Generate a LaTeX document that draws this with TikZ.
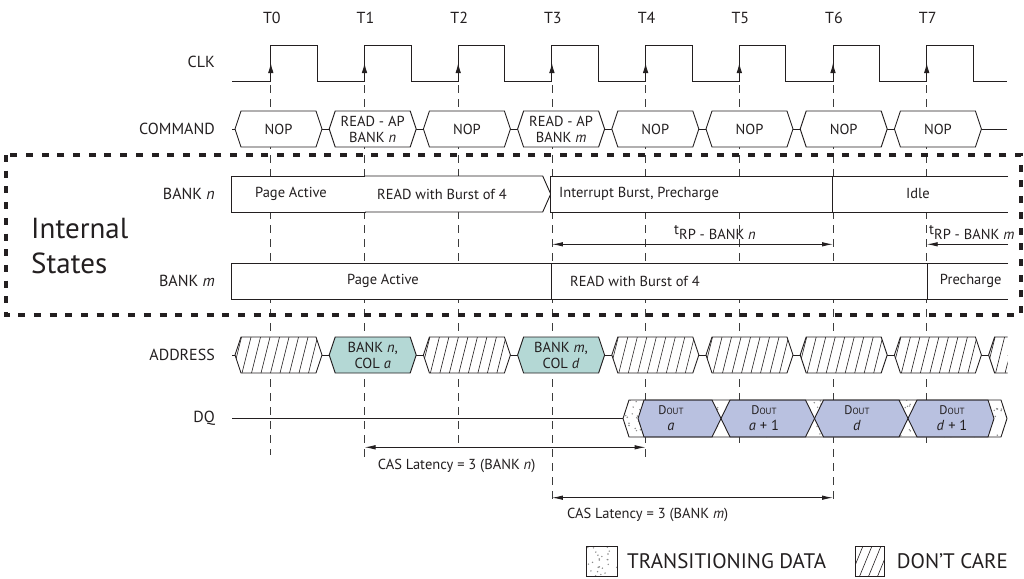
\documentclass[tikz,border=0pt]{standalone}
\usepackage{fontspec}
\setmainfont{PT Sans}
\usetikzlibrary{arrows.meta,calc}
\definecolor{ink}{RGB}{35,31,32}
\definecolor{guide}{RGB}{60,60,60}
\definecolor{addrfill}{RGB}{180,216,213}
\definecolor{dqfill}{RGB}{185,193,224}
\definecolor{dotgrey}{RGB}{140,140,140}
\tikzset{
  sig/.style={draw=ink,line width=0.9pt,line join=miter},
  hatchln/.style={draw=ink,line width=0.6pt},
  guideline/.style={draw=guide,line width=0.8pt,dash pattern=on 8pt off 6pt},
  tlbl/.style={font=\fontsize{16}{18}\selectfont,text=ink,inner sep=0pt},
  rowlbl/.style={font=\fontsize{16}{18}\selectfont,text=ink,anchor=east,inner sep=0pt},
  celltxt/.style={font=\fontsize{14.5}{16}\selectfont,text=ink,align=center,inner sep=0pt},
  bigtxt/.style={font=\fontsize{29}{35}\selectfont,text=ink,anchor=base west,inner sep=0pt},
  legtxt/.style={font=\fontsize{21}{24}\selectfont,text=ink,anchor=west,inner sep=0pt},
  dim/.style={draw=ink,line width=0.9pt,{Latex[length=11pt,width=4.5pt]}-{Latex[length=11pt,width=4.5pt]}},
  dimr/.style={draw=ink,line width=0.9pt,-{Latex[length=11pt,width=4.5pt]}},
  edgetip/.style={draw=ink,line width=0.9pt,-{Latex[length=10pt,width=5.5pt]}},
  statebox/.style={draw=ink,line width=0.9pt,fill=white},
  groupbox/.style={draw=ink,line width=4pt,dash pattern=on 7pt off 8.7pt},
}
\newcommand{\hexcell}[2]{(#1,#2) -- ++(6,-18) -- ++(75,0) -- ++(6,18) -- ++(-6,18) -- ++(-75,0) -- cycle}
\newcommand{\dqenv}{(623,418.5) -- (629,400) -- (1001,400) -- (1007,418.5) -- (1001,437) -- (629,437) -- cycle}
\newcommand{\dout}{{\fontsize{12.5}{14}\selectfont D}{\fontsize{9}{10}\selectfont OUT}}

\begin{document}
\begin{tikzpicture}[x=1pt,y=-1pt]
  \useasboundingbox (0,0) rectangle (1024,578);

  \foreach \k in {0,...,7}{
    \pgfmathsetmacro\tx{270.8+93.7*\k}
    \coordinate (e\k) at (\tx,81);
    \node[tlbl] (lt\k) at (\tx+1,18) {T\k};
  }
  \foreach \k/\yend in {0/455,1/457,2/443,3/501,4/457,5/443,6/501,7/443}
    \draw[guideline] (e\k) ++(0,4) -- ++(0,\yend-85);

  % clock
  \node[rowlbl] (lclk) at (215,62) {CLK};
  \draw[sig] (232,81) \foreach \k in {0,...,7}{ -- (e\k) -- ++(0,-36) -- ++(46.5,0) -- ++(0,36) } -- (1007,81);
  \foreach \k in {0,...,7} \draw[edgetip] (e\k) -- ++(0,-18);

  % command
  \node[rowlbl] (lcmd) at (215,129) {COMMAND};
  \draw[sig] (232,129) -- (1007,129);
  \foreach \k/\txt in {0/NOP,1/{READ - AP\\BANK \textit{n}},2/NOP,3/{READ - AP\\BANK \textit{m}},4/NOP,5/NOP,6/NOP,7/NOP}{
    \pgfmathsetmacro\lx{235+94.2*\k}
    \draw[sig,fill=white] \hexcell{\lx}{129};
    \node[celltxt] (cmd\k) at (\lx+43.5,129) {\txt};
  }

  % internal states
  \draw[groupbox] (5.5,155) rectangle (1021,315);
  \node[bigtxt] (lint) at (31,238) {Internal};
  \node[bigtxt] (lsta) at (31,273) {States};

  \node[rowlbl] (lbn) at (215,194) {BANK \textit{n}};
  \draw[statebox] (231,176) rectangle (365,212);
  \draw[statebox] (365,176) -- (542.7,176) -- (550.7,194) -- (542.7,212) -- (365,212);
  \draw[statebox] (1008,176) -- (550.7,176) -- (550.7,212) -- (1008,212);
  \draw[sig] (832,176) -- (832,212);
  \node[celltxt] (bn-pa) at (291,194) {Page Active};
  \node[celltxt,anchor=west] (bn-rd) at (377,194) {READ with Burst of 4};
  \node[celltxt,anchor=west] (bn-ib) at (559,194) {Interrupt Burst, Precharge};
  \node[celltxt] (bn-id) at (918,194) {Idle};

  \coordinate (ytrp) at (0,244.3);
  \coordinate (trpend) at (1008,244.3);
  \draw[dim] (e3 |- ytrp) -- (e6 |- ytrp);
  \draw[dimr] (trpend) -- (e7 |- ytrp);
  \node[celltxt,anchor=base west] (trpn) at (674,239) {\raisebox{5pt}{t}RP - BANK \textit{n}};
  \node[celltxt,anchor=base west] (trpm) at (929,239) {\raisebox{5pt}{t}RP - BANK \textit{m}};

  \node[rowlbl] (lbm) at (215,281) {BANK \textit{m}};
  \draw[statebox] (1008,263.3) -- (231,263.3) -- (231,299.3) -- (1008,299.3);
  \draw[sig] (551.7,263.3) -- (551.7,299.3);
  \draw[sig] (927.7,263.3) -- (927.7,299.3);
  \node[celltxt] (bm-pa) at (383,281) {Page Active};
  \node[celltxt,anchor=west] (bm-rd) at (570,281) {READ with Burst of 4};
  \node[celltxt] (bm-pr) at (970.7,281) {Precharge};

  % address
  \node[rowlbl] (ladr) at (215,355) {ADDRESS};
  \begin{scope}
    \clip (0,320) rectangle (1007.5,390);
    \draw[sig] (232,355) -- (1010,355);
    \foreach \k in {0,2,4,5,6,7,8}{
      \pgfmathsetmacro\lx{235+94.2*\k}
      \fill[white] \hexcell{\lx}{355};
      \begin{scope}
        \clip \hexcell{\lx}{355};
        \foreach \h in {-12,-2.5,...,92} \draw[hatchln] (\lx+\h,373) -- ++(9,-36);
      \end{scope}
      \draw[sig] \hexcell{\lx}{355};
    }
  \end{scope}
  \foreach \k/\txt in {1/{BANK \textit{n},\\COL \textit{a}},3/{BANK \textit{m},\\COL \textit{d}}}{
    \pgfmathsetmacro\lx{235+94.2*\k}
    \draw[sig,fill=addrfill] \hexcell{\lx}{355};
    \node[celltxt] (adr\k) at (\lx+43.5,355) {\txt};
  }

  % data
  \node[rowlbl] (ldq) at (215,418.5) {DQ};
  \draw[sig] (232,418.5) -- (623,418.5);
  \fill[white] \dqenv;
  \begin{scope}
    \clip \dqenv;
    \pgfmathsetseed{11}
    \foreach \i in {1,...,320}{
      \pgfmathsetmacro\px{623+384*rnd}
      \pgfmathsetmacro\py{400+37*rnd}
      \fill[dotgrey] (\px,\py) circle (0.8);
    }
  \end{scope}
  \foreach \la/\lc/\rc/\ra in {638/644/712/721,721/730/805.5/814.5,814.5/823.5/899/908,908/917/988/994}
    \draw[sig,fill=dqfill] (\la,418.5) -- (\lc,400) -- (\rc,400) -- (\ra,418.5) -- (\rc,437) -- (\lc,437) -- cycle;
  \draw[sig] \dqenv;
  \node[celltxt] (dq0) at (671,418.5) {\dout\\\textit{a}};
  \node[celltxt] (dq1) at (764,418.5) {\dout\\\textit{a} + 1};
  \node[celltxt] (dq2) at (857,418.5) {\dout\\\textit{d}};
  \node[celltxt] (dq3) at (952,418.5) {\dout\\\textit{d} + 1};

  % latencies
  \coordinate (ycas1) at (0,447.3);
  \coordinate (ycas2) at (0,497.7);
  \draw[dim] (e1 |- ycas1) -- (e4 |- ycas1);
  \node[celltxt,anchor=west] (casn) at (377.7,466) {CAS Latency = 3 (BANK \textit{n})};
  \draw[dim] (e3 |- ycas2) -- (e6 |- ycas2);
  \node[celltxt,anchor=west] (casm) at (567,515) {CAS Latency = 3 (BANK \textit{m})};

  % legend
  \fill[white] (586,546) rectangle (617.3,576.7);
  \begin{scope}
    \clip (586,546) rectangle (617.3,576.7);
    \pgfmathsetseed{5}
    \foreach \i in {1,...,24}{
      \pgfmathsetmacro\px{586+31*rnd}
      \pgfmathsetmacro\py{546+31*rnd}
      \fill[dotgrey] (\px,\py) circle (0.8);
    }
  \end{scope}
  \draw[sig] (586,546) rectangle (617.3,576.7);
  \node[legtxt] (lgtr) at (627,561.5) {TRANSITIONING DATA};
  \begin{scope}
    \clip (855.7,546.7) rectangle (884.3,576);
    \foreach \h in {-14,-5,...,30} \draw[hatchln] (855.7+\h,576) -- ++(12,-29.3);
  \end{scope}
  \draw[sig] (855.7,546.7) rectangle (884.3,576);
  \node[legtxt] (lgdc) at (896.7,561.5) {DON’T CARE};
\end{tikzpicture}
\end{document}
